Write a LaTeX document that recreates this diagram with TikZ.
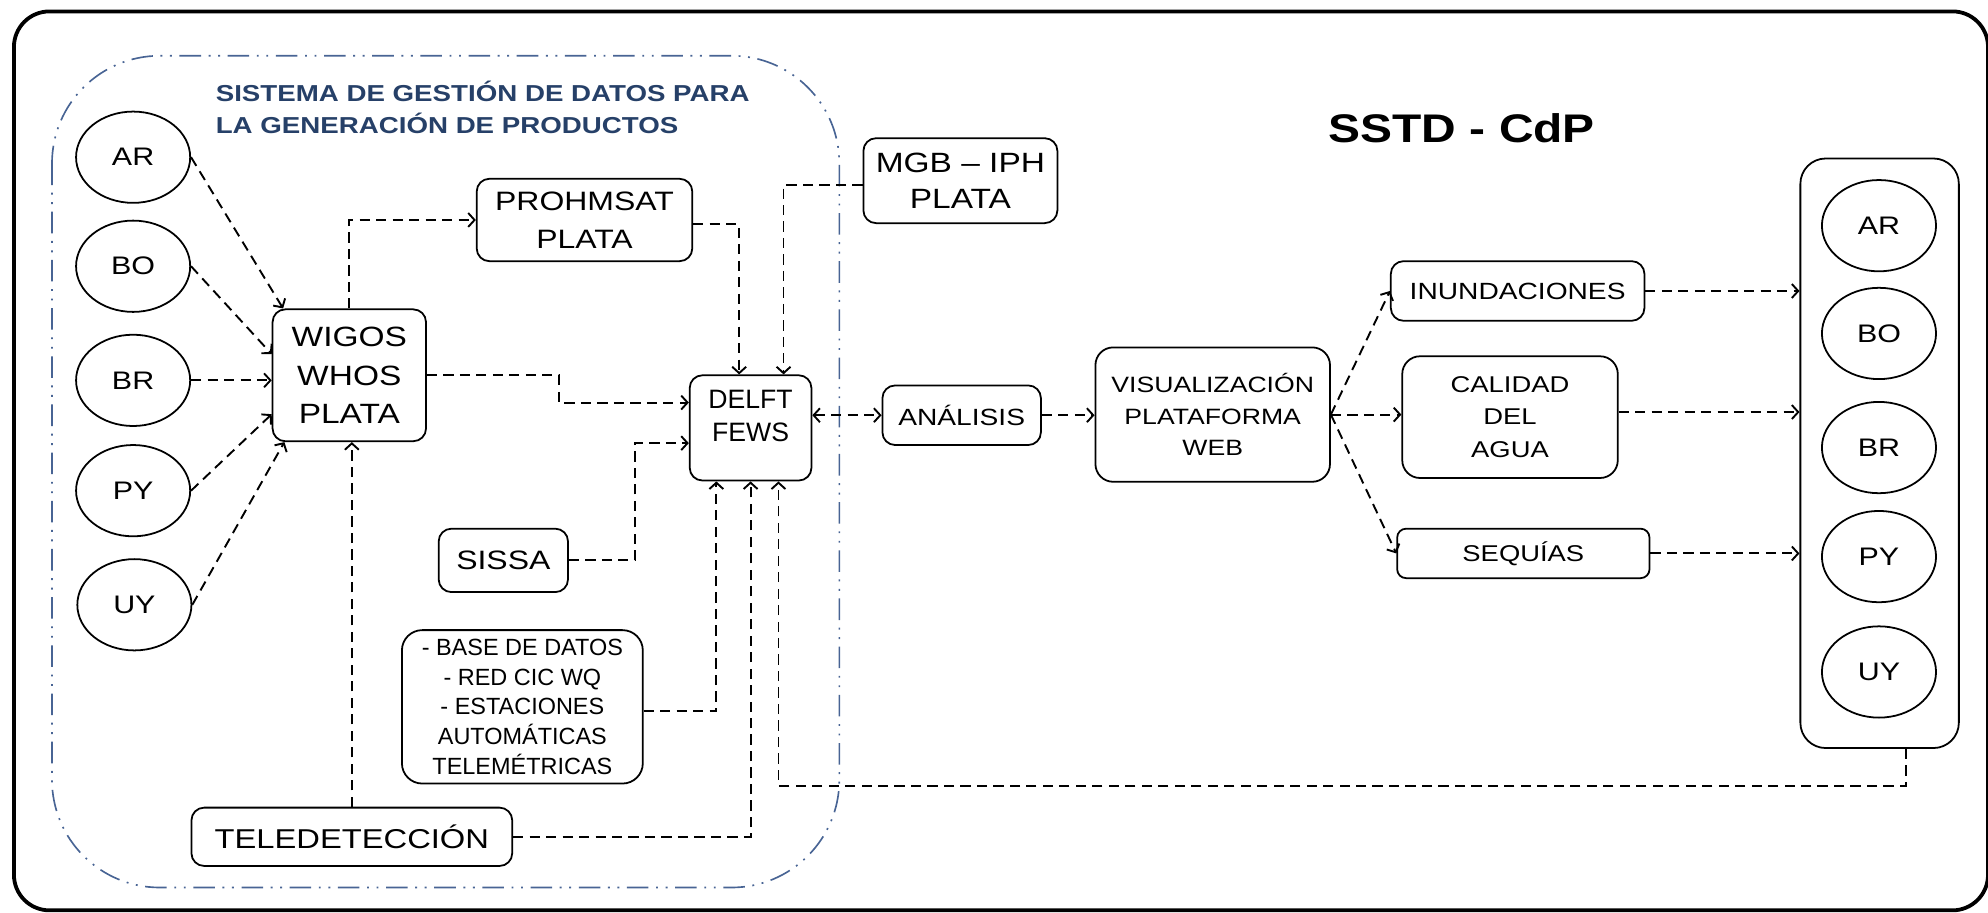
\documentclass[tikz,border=0pt]{standalone}
\usepackage{fontspec}
\setmainfont{Liberation Sans}[FakeStretch=1.2]
\newfontfamily\condfont{Liberation Sans}[FakeStretch=1.0]
\usetikzlibrary{arrows.meta,shapes.geometric}
\definecolor{titleblue}{RGB}{38,64,104}
\definecolor{frameblue}{RGB}{72,100,148}
\tikzset{
 box/.style={draw, line width=1.4pt, rounded corners=10pt, inner sep=0pt, align=center},
 circ/.style={draw, ellipse, line width=1.4pt, minimum width=90pt, minimum height=72pt, inner sep=0pt, font=\fontsize{20}{24}\selectfont},
 conn/.style={line width=1.5pt, dash pattern=on 8pt off 5pt, -{Straight Barb[length=5pt,width=11pt]}},
 bconn/.style={line width=1.5pt, dash pattern=on 8pt off 5pt, {Straight Barb[length=5pt,width=11pt]}-{Straight Barb[length=5pt,width=11pt]}},
}
\begin{document}
\begin{tikzpicture}[x=1pt,y=-1pt]
\useasboundingbox (0,0) rectangle (1568,720);
% outer frame
\draw[line width=3pt, rounded corners=28pt] (11,9) rectangle (1568,718);
% data management region
\draw[frameblue, line width=1.3pt, dash pattern=on 17pt off 6pt on 1.5pt off 6pt on 1.5pt off 6pt, rounded corners=85pt] (41,44) rectangle (662,700);
\node[font=\bfseries\fontsize{18.2}{25}\selectfont, text=titleblue, anchor=base west, inner sep=0pt] (t1) at (170,80) {SISTEMA DE GESTIÓN DE DATOS PARA};
\node[font=\bfseries\fontsize{18.2}{25}\selectfont, text=titleblue, anchor=base west, inner sep=0pt] (t2) at (170,105) {LA GENERACIÓN DE PRODUCTOS};
\node[font=\bfseries\fontsize{31.5}{40}\selectfont, anchor=base, inner sep=0pt] (sstd) at (1153,112) {SSTD - CdP};

% left countries
\node[circ] (ar) at (105,124) {AR};
\node[circ] (bo) at (105,210) {BO};
\node[circ] (br) at (105,300) {BR};
\node[circ] (py) at (105,387) {PY};
\node[circ] (uy) at (106,477) {UY};

\node[box, minimum width=121pt, minimum height=104pt, font=\fontsize{22}{30}\selectfont] (wigos) at (275.5,296) {WIGOS\\WHOS\\PLATA};
\node[box, minimum width=170pt, minimum height=65pt, font=\fontsize{21}{30}\selectfont] (proh) at (461,173.5) {PROHMSAT\\PLATA};
\node[box, minimum width=96pt, minimum height=83pt] (delft) at (592,337.5) {};
\node[align=center, inner sep=0pt, font=\condfont\fontsize{21}{25.5}\selectfont] (delfttext) at (592,328) {DELFT\\FEWS};
\node[box, minimum width=153pt, minimum height=67pt, font=\fontsize{22}{29}\selectfont] (mgb) at (757.5,142.5) {MGB – IPH\\PLATA};
\node[box, minimum width=102pt, minimum height=50pt, font=\fontsize{21}{25}\selectfont] (sissa) at (397,442) {SISSA};
\node[box, minimum width=190pt, minimum height=121pt, rounded corners=16pt, font=\condfont\fontsize{18.5}{23.4}\selectfont] (base) at (412,557.5) {- BASE DE DATOS\\- RED CIC WQ\\- ESTACIONES\\AUTOMÁTICAS\\TELEMÉTRICAS};
\node[box, minimum width=253pt, minimum height=46pt, font=\fontsize{21.5}{25}\selectfont] (tele) at (277.5,660) {TELEDETECCIÓN};

\node[box, minimum width=125pt, minimum height=47pt, font=\fontsize{18.5}{24}\selectfont] (anal) at (758.5,327.5) {ANÁLISIS};
\node[box, minimum width=185pt, minimum height=106pt, rounded corners=14pt, font=\fontsize{17.5}{24.7}\selectfont] (vis) at (956.5,327) {VISUALIZACIÓN\\PLATAFORMA\\WEB};
\node[box, minimum width=200pt, minimum height=47pt, font=\fontsize{18.5}{24}\selectfont] (inund) at (1197,229.5) {INUNDACIONES};
\node[box, minimum width=170pt, minimum height=96pt, rounded corners=14pt, font=\fontsize{18}{26}\selectfont] (cal) at (1191,329) {CALIDAD\\DEL\\AGUA};
\node[box, minimum width=199pt, minimum height=39pt, rounded corners=7pt, font=\fontsize{18}{24}\selectfont] (seq) at (1201.5,436.5) {SEQUÍAS};

% right container
\node[draw, line width=1.4pt, rounded corners=20pt, minimum width=125pt, minimum height=465pt, inner sep=0pt] (rbox) at (1482.5,357.5) {};
\node[circ] (rar) at (1482,178) {AR};
\node[circ] (rbo) at (1482,263) {BO};
\node[circ] (rbr) at (1482,353) {BR};
\node[circ] (rpy) at (1482,439) {PY};
\node[circ] (ruy) at (1482,530) {UY};

% connectors: countries to WIGOS
\draw[conn] (ar.east) -- ([xshift=9pt]wigos.north west);
\draw[conn] (bo.east) -- ([yshift=-36pt]wigos.north west);
\draw[conn] (br.east) -- (br.east -| wigos.west);
\draw[conn] (py.east) -- ([yshift=22pt]wigos.south west);
\draw[conn] (uy.east) -- ([xshift=10pt]wigos.south west);
\draw[conn] (tele.north) -- (tele.north |- wigos.south);

% into DELFT
\draw[conn] (wigos.north) |- (proh.west);
\draw[conn] ([yshift=-3.5pt]proh.east) -| ([xshift=-9pt]delft.north);
\draw[conn] ([yshift=-3.5pt]mgb.west) -| ([xshift=26pt]delft.north);
\draw[conn] (wigos.east) -- ++(104,0) |- ([yshift=20pt]delft.west);
\draw[conn] (sissa.east) -- ++(52,0) |- ([yshift=-12pt]delft.west);
\draw[conn] ([yshift=-3.5pt]base.east) -| ([xshift=-27pt]delft.south);
\draw[conn] (tele.east) -| (delft.south);
\draw[conn] ([xshift=21pt]rbox.south) -- ++(0,29) -| ([xshift=22pt]delft.south);

% right side flow
\draw[bconn] (anal.west -| delft.east) -- (anal.west);
\draw[conn] (anal.east) -- (anal.east -| vis.west);
\draw[conn] (vis.east) -- (inund.west);
\draw[conn] (vis.east) -- (vis.east -| cal.west);
\draw[conn] (vis.east) -- (seq.west);
\draw[conn] (inund.east) -- (inund.east -| rbox.west);
\draw[conn] ([yshift=4pt]cal.east) -- ([yshift=4pt]cal.east -| rbox.west);
\draw[conn] (seq.east) -- (seq.east -| rbox.west);
\end{tikzpicture}
\end{document}
